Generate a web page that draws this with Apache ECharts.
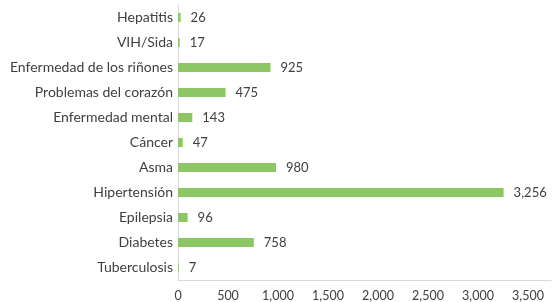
<!DOCTYPE html>
<html>
<head>
<meta charset="utf-8">
<script src="https://cdn.jsdelivr.net/npm/echarts@6/dist/echarts.min.js"></script>
<style>
html, body { margin: 0; padding: 0; background: #fff; }
#chart { width: 553px; height: 302px; }
</style>
</head>
<body>
<div id="chart"></div>
<script>
const categories = ['Hepatitis', 'VIH/Sida', 'Enfermedad de los riñones', 'Problemas del corazón',
    'Enfermedad mental', 'Cáncer', 'Asma', 'Hipertensión', 'Epilepsia', 'Diabetes', 'Tuberculosis']
const values = [26, 17, 925, 475, 143, 47, 980, 3256, 96, 758, 7]
const xTicks = [0, 500, 1000, 1500, 2000, 2500, 3000, 3500]

const fmt = v => v.toLocaleString('en-US')
const myChart = echarts.init(document.getElementById('chart'))
const option = {
    animation: false,
    textStyle: { fontFamily: 'Lato' },
    grid: { left: 178, right: 2, top: 5, bottom: 20 },
    xAxis: {
        type: 'value',
        min: 0,
        max: 3730,
        interval: 500,
        splitLine: { show: false },
        axisTick: { show: false },
        axisLine: { show: true, lineStyle: { color: '#d9d9d9', width: 1 } },
        axisLabel: {
            color: '#404040',
            fontSize: 12.5,
            margin: 9,
            showMaxLabel: false,
            formatter: v => xTicks.includes(v) ? fmt(v) : ''
        }
    },
    yAxis: {
        type: 'category',
        inverse: true,
        data: categories,
        axisTick: { show: false },
        axisLine: { show: true, lineStyle: { color: '#d9d9d9', width: 1 } },
        axisLabel: { color: '#404040', fontSize: 14, margin: 5 }
    },
    series: [
        {
            type: 'bar',
            data: values,
            barWidth: 9,
            itemStyle: { color: '#8cc665' },
            label: {
                show: true,
                position: 'right',
                distance: 10,
                color: '#404040',
                fontSize: 13,
                formatter: p => fmt(p.value)
            }
        }
    ]
}
myChart.setOption(option)
</script>
</body>
</html>
